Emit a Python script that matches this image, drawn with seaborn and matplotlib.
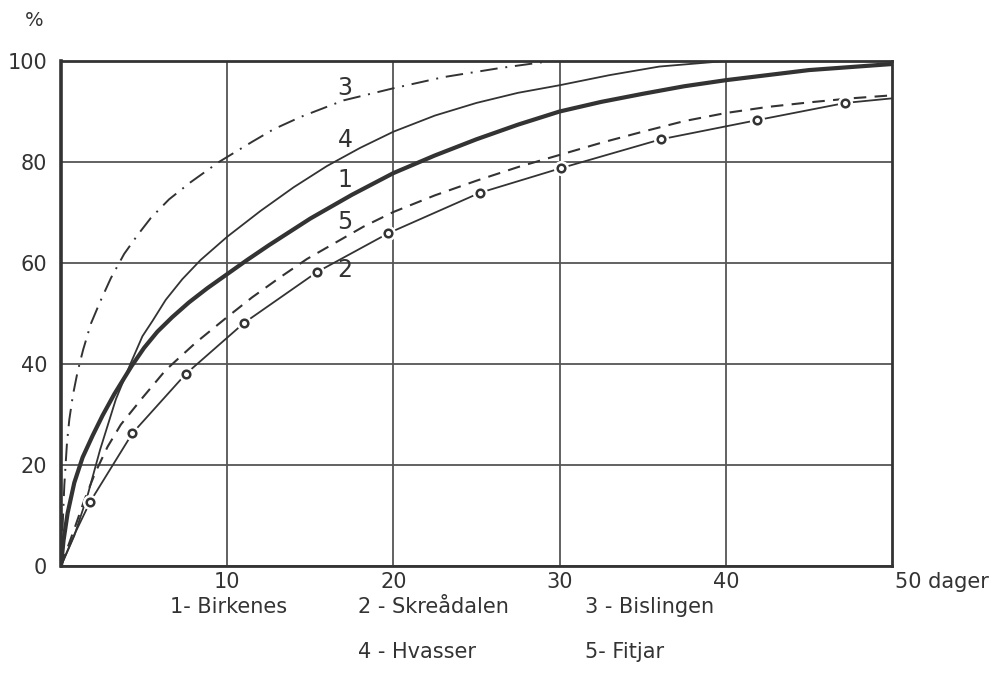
import matplotlib
matplotlib.use("Agg")
import matplotlib.pyplot as plt
import seaborn as sns

# values (days, percent)
x_birkenes = [0, 0.15, 0.4, 0.8, 1.3, 1.9, 2.5, 3.2, 4.25, 5.0, 5.8, 6.7, 7.7, 8.8, 10, 11.2,
              12.5, 15, 17.5, 20, 22.5, 25, 27.5, 30, 32.5, 35, 37.5, 40, 45, 50]
y_birkenes = [0, 5, 10.5, 16.5, 21.5, 25.8, 29.8, 34, 39.6, 43.2, 46.4, 49.3, 52.2, 55, 57.8, 60.6,
              63.5, 68.8, 73.5, 77.8, 81.3, 84.5, 87.4, 90.0, 91.9, 93.5, 95.0, 96.2, 98.2, 99.4]

x_skreadalen = [0, 0.8, 1.75, 4.3, 7.5, 11, 15.4, 19.7, 25.2, 30.1, 36.1, 41.9, 47.2, 50]
y_skreadalen = [0, 6.2, 12.7, 26.3, 38.0, 48.1, 58.2, 65.9, 73.9, 78.8, 84.5, 88.3, 91.7, 92.6]
# measured points (circles)
x_skr_pts = [1.75, 4.3, 7.5, 11, 15.4, 19.7, 25.2, 30.1, 36.1, 41.9, 47.2]
y_skr_pts = [12.7, 26.3, 38.0, 48.1, 58.2, 65.9, 73.9, 78.8, 84.5, 88.3, 91.7]

x_bislingen = [0, 0.1, 0.2, 0.36, 0.5, 0.72, 1.0, 1.33, 1.8, 2.35, 3.0, 3.8, 4.6, 5.4, 6.5, 7.8,
               9.5, 11.5, 12.8, 14.4, 17, 20, 23, 26.4, 29.5]
y_bislingen = [0, 8, 16, 24.4, 29, 33.9, 38.5, 42.8, 48, 52.3, 57, 61.8, 65.5, 68.9, 72.6, 76.0,
               80.0, 84.0, 86.5, 88.9, 92.2, 94.6, 96.8, 98.6, 100]

x_hvasser = [0, 0.8, 1.6, 2.35, 3.3, 4.2, 4.9, 5.5, 6.3, 7.3, 8.4, 10, 12, 14, 16, 18, 20,
             22.5, 25, 27.5, 30, 33, 36, 40]
y_hvasser = [0, 6, 14, 23, 33, 40.2, 45.5, 48.5, 52.7, 56.8, 60.6, 65.2, 70.3, 75.0, 79.2, 82.8, 86.0,
             89.2, 91.7, 93.7, 95.2, 97.2, 98.9, 100]

x_fitjar = [0, 0.84, 1.4, 2.05, 2.8, 3.6, 4.9, 6.3, 8.1, 10, 11.5, 13.2, 14.8, 16.5, 18.2, 20,
            22.5, 25, 27.5, 30, 32.5, 35, 37.5, 40, 42.5, 45, 47.5, 50]
y_fitjar = [0, 7.7, 13, 18.4, 23.6, 28, 33.3, 38.8, 44.2, 49.3, 53.2, 57.2, 60.8, 64.0, 67.2, 70.1,
            73.4, 76.3, 79.0, 81.4, 83.8, 86.0, 88.1, 89.7, 90.9, 91.8, 92.6, 93.2]

curve_nums = ["1", "2", "3", "4", "5"]
curve_lab_y = [76.4, 58.6, 94.7, 84.4, 68.1]

x_ticks = [10, 20, 30, 40]
y_ticks = [0, 20, 40, 60, 80, 100]

sns.set_style("white")
plt.rcParams['font.family'] = ['DejaVu Sans']

ink = "#333333"

fig = plt.figure(figsize=(9.94, 6.76), dpi=100)
ax = fig.add_axes([61 / 994, 1 - 566 / 676, (892 - 61) / 994, (566 - 61) / 676])

sns.lineplot(x=x_bislingen, y=y_bislingen, ax=ax, color=ink, lw=1.4,
             linestyle=(0, (9, 4, 1, 4)), estimator=None, sort=False)
sns.lineplot(x=x_hvasser, y=y_hvasser, ax=ax, color=ink, lw=1.3,
             estimator=None, sort=False)
sns.lineplot(x=x_birkenes, y=y_birkenes, ax=ax, color=ink, lw=3.0,
             estimator=None, sort=False)
sns.lineplot(x=x_fitjar, y=y_fitjar, ax=ax, color=ink, lw=1.5,
             linestyle=(0, (6, 4)), estimator=None, sort=False)
sns.lineplot(x=x_skreadalen, y=y_skreadalen, ax=ax, color=ink, lw=1.3,
             estimator=None, sort=False)
# white halo then small open circles, like the gaps in the drawn line
ax.scatter(x_skr_pts, y_skr_pts, s=120, color="white", zorder=4, linewidths=0)
ax.scatter(x_skr_pts, y_skr_pts, s=30, facecolor="white", edgecolor=ink,
           linewidths=1.8, zorder=5)

for n, yy in zip(curve_nums, curve_lab_y):
    ax.text(17.1, yy, n, fontsize=17, color=ink, ha="center", va="center")

ax.set_xlim(0, 50)
ax.set_ylim(0, 100)
ax.set_xticks(x_ticks)
ax.set_yticks(y_ticks)
ax.set_xticklabels([str(t) for t in x_ticks])
ax.tick_params(axis="both", length=0, labelsize=15, labelcolor=ink)
ax.tick_params(axis="x", pad=4)
ax.tick_params(axis="y", pad=10)
ax.grid(True, color="#555555", lw=1.3)
for s in ax.spines.values():
    s.set_visible(True)
    s.set_color(ink)
    s.set_linewidth(2.0)
ax.spines["left"].set_linewidth(2.6)

ax.text(50.2, -3.2, "50 dager", fontsize=15, color=ink, ha="left", va="center",
        clip_on=False)
fig.text(25 / 994, 1 - 20 / 676, "%", fontsize=14, color=ink, va="center")

legend_rows = [
    (170, 607, "1- Birkenes"), (358, 607, "2 - Skreådalen"), (585, 607, "3 - Bislingen"),
    (358, 652, "4 - Hvasser"), (585, 652, "5- Fitjar"),
]
for px, py, t in legend_rows:
    fig.text(px / 994, 1 - py / 676, t, fontsize=15, color=ink, va="center", ha="left")

fig.savefig("out.png", dpi=100, facecolor="white")
